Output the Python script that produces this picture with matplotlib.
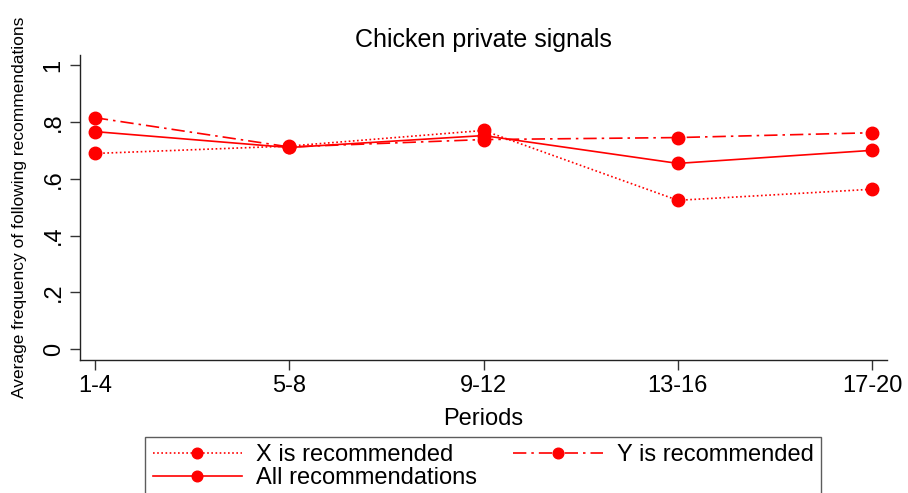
import matplotlib.pyplot as plt

plt.rcParams['font.family'] = ['Liberation Sans', 'DejaVu Sans']

periods = ["1-4", "5-8", "9-12", "13-16", "17-20"]
x_recommended = [0.689, 0.715, 0.770, 0.524, 0.563]
y_recommended = [0.815, 0.712, 0.738, 0.745, 0.762]
all_recommendations = [0.766, 0.710, 0.752, 0.654, 0.700]

fig = plt.figure(figsize=(9.08, 4.93), dpi=100)
ax = fig.add_axes([0.088, 0.270, 0.889, 0.618])

pos = range(len(periods))
h_x, = ax.plot(pos, x_recommended, color='red', linestyle=(0, (1, 1.5)), lw=1.2,
               marker='o', ms=9, label='X is recommended')
h_y, = ax.plot(pos, y_recommended, color='red', linestyle=(0, (8, 3, 1.5, 3)), lw=1.2,
               marker='o', ms=9, label='Y is recommended')
h_all, = ax.plot(pos, all_recommendations, color='red', linestyle='-', lw=1.2,
                 marker='o', ms=9, label='All recommendations')

ax.set_xlim(-0.077, 4.077)
ax.set_ylim(-0.038, 1.035)
ax.set_xticks(list(pos))
ax.set_xticklabels(periods, fontsize=17)
ax.set_yticks([0, 0.2, 0.4, 0.6, 0.8, 1])
ax.set_yticklabels(['0', '.2', '.4', '.6', '.8', '1'], fontsize=17, rotation=90, va='center')
ax.tick_params(direction='out', length=7, width=1, colors='#333333', labelcolor='black', pad=4)
for side in ['top', 'right']:
    ax.spines[side].set_visible(False)
for side in ['left', 'bottom']:
    ax.spines[side].set_linewidth(1)
    ax.spines[side].set_color('#222222')

ax.set_title('Chicken private signals', fontsize=18, pad=6)
ax.set_xlabel('Periods', fontsize=17, labelpad=8)
ax.set_ylabel('Average frequency of following recommendations', fontsize=12.5, labelpad=11)

# row-wise order: X, Y on the first row, All on the second
leg = fig.legend([h_x, h_all, h_y],
                 ['X is recommended', 'All recommendations', 'Y is recommended'],
                 loc='upper center', bbox_to_anchor=(0.532, 1 - 437 / 493), ncol=2, fontsize=17,
                 handlelength=3.8, frameon=True, fancybox=False, edgecolor='#333333',
                 borderpad=0.3, labelspacing=0.05, columnspacing=1.5, handletextpad=0.6,
                 borderaxespad=0, markerscale=0.85)
leg.get_frame().set_linewidth(1)

fig.savefig('out.png', dpi=100)
